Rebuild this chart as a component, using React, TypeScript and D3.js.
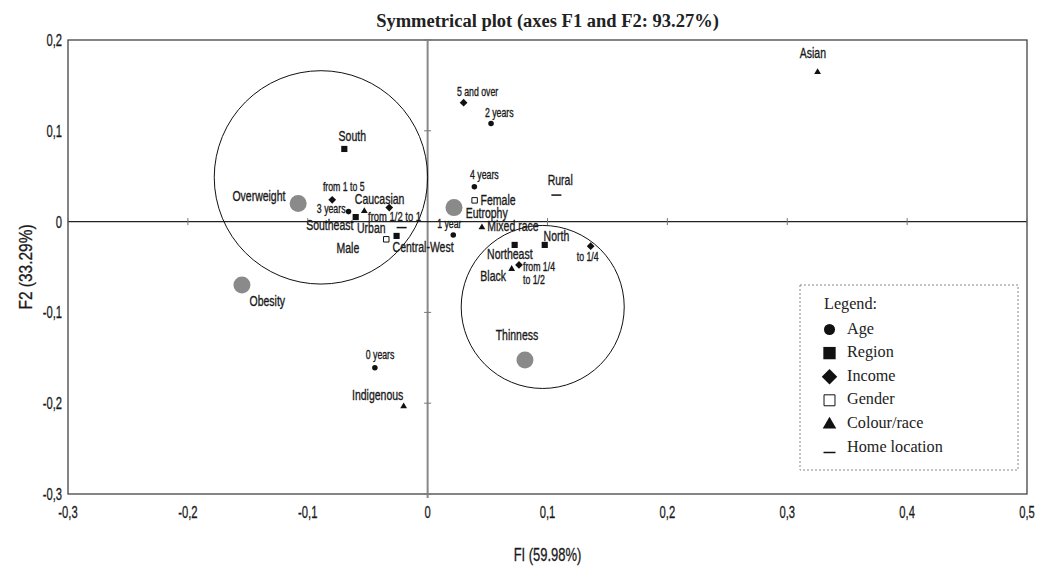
import React from "react";
import * as d3 from "d3";

// ---------- data ----------
const ageNames = ["0 years", "1 year", "2 years", "3 years", "4 years"];
const ageF1 = [-0.044, 0.0214, 0.0529, -0.066, 0.039];
const ageF2 = [-0.161, -0.0147, 0.108, 0.011, 0.0385];

const regionNames = ["South", "Southeast", "Central-West", "North", "Northeast"];
const regionF1 = [-0.0695, -0.06, -0.0259, 0.0977, 0.0726];
const regionF2 = [0.08, 0.005, -0.0158, -0.0257, -0.0257];

const incomeNames = ["5 and over", "from 1 to 5", "from 1/2 to 1", "from 1/4\nto 1/2", "to 1/4"];
const incomeF1 = [0.03, -0.0796, -0.032, 0.0762, 0.136];
const incomeF2 = [0.131, 0.024, 0.0154, -0.0477, -0.0271];

const genderNames = ["Female", "Male"];
const genderF1 = [0.0392, -0.0345];
const genderF2 = [0.0234, -0.0195];

const raceNames = ["Asian", "Caucasian", "Mixed race", "Black", "Indigenous"];
const raceF1 = [0.3253, -0.0528, 0.0453, 0.0701, -0.02];
const raceF2 = [0.1655, 0.0124, -0.0055, -0.0513, -0.2026];

const homeNames = ["Urban", "Rural"];
const homeF1 = [-0.0217, 0.1074];
const homeF2 = [-0.0066, 0.0292];

const nutritionNames = ["Overweight", "Obesity", "Eutrophy", "Thinness"];
const nutritionF1 = [-0.108, -0.1549, 0.022, 0.0812];
const nutritionF2 = [0.02, -0.0697, 0.0154, -0.1524];

const groupCenterF1 = [-0.089, 0.096];
const groupCenterF2 = [0.0487, -0.094];
const groupRadius = [0.089, 0.068];

const xTicks = [-0.3, -0.2, -0.1, 0, 0.1, 0.2, 0.3, 0.4, 0.5];
const yTicks = [-0.3, -0.2, -0.1, 0, 0.1, 0.2];

const legendNames = ["Age", "Region", "Income", "Gender", "Colour/race", "Home location"];

const title = "Symmetrical plot (axes F1 and F2: 93.27%)";
const xTitle = "FI (59.98%)";
const yTitle = "F2 (33.29%)";

// ---------- layout (label placement, px offsets) ----------
type Lab = [number, number, "start" | "middle" | "end", number];
const L = 15;
const S = 12.5;
const labelLayout: Record<string, Lab> = {
  "South": [8, -13, "middle", L],
  "Overweight": [-12.7, -7.3, "end", L],
  "from 1 to 5": [11.6, -13.6, "middle", S],
  "3 years": [-3, -3, "end", S],
  "Caucasian": [15.3, -12, "middle", L],
  "from 1/2 to 1": [5.3, 8.4, "middle", 13.5],
  "Southeast": [-2.3, 7.3, "end", L],
  "Urban": [-16, 0, "end", L],
  "Male": [-27, 8.3, "end", L],
  "Central-West": [26.5, 11, "middle", L],
  "5 and over": [14, -11.6, "middle", S],
  "2 years": [8.2, -11.4, "middle", S],
  "4 years": [10, -12.3, "middle", S],
  "Female": [6, -0.7, "start", L],
  "Eutrophy": [11.7, 5, "start", L],
  "Mixed race": [5.3, -0.6, "start", L],
  "1 year": [-4, -11.4, "middle", S],
  "Rural": [3.8, -15, "middle", L],
  "North": [11.7, -9, "middle", L],
  "Northeast": [-4.8, 9.3, "middle", L],
  "to 1/4": [-3, 9.7, "middle", S],
  "from 1/4\nto 1/2": [4, 1, "start", S],
  "Black": [-5.7, 7.7, "end", L],
  "Thinness": [-8, -25, "middle", L],
  "Asian": [-4.7, -19, "middle", L],
  "Obesity": [7.6, 16, "start", L],
  "0 years": [5.2, -13, "middle", S],
  "Indigenous": [-0.3, -11, "end", L],
};

const W = 1039;
const H = 566;
const FONT = "'Liberation Sans', Arial, sans-serif";
const SERIF = "'Liberation Serif', 'DejaVu Serif', serif";
const SQ = 0.7; // horizontal squeeze to mimic condensed face
const INK = "#1a1a1a";

const x = d3.scaleLinear().domain([-0.3, 0.5]).range([68, 1027]);
const y = d3.scaleLinear().domain([-0.3, 0.2]).range([494, 40]);

const fmt = (v: number) => (Math.abs(v) < 1e-9 ? "0" : d3.format(".1f")(v).replace(".", ",").replace("−", "-"));

type Kind = "circle" | "square" | "diamond" | "gender" | "triangle" | "dash";

const symPath = (kind: Kind, big = false): string | null => {
  const k = big ? 2 : 1;
  switch (kind) {
    case "circle":
      return d3.symbol(d3.symbolCircle, 24 * k * k)()!;
    case "square":
      return d3.symbol(d3.symbolSquare, 38 * k * k)()!;
    case "diamond":
      return d3.symbol(d3.symbolSquare, 30 * k * k)()!;
    case "gender":
      return d3.symbol(d3.symbolSquare, 30 * k * k)()!;
    case "triangle":
      return d3.symbol(d3.symbolTriangle, 20 * k * k)()!;
    default:
      return null;
  }
};

function Marker({ kind, cx, cy, big = false }: { kind: Kind; cx: number; cy: number; big?: boolean }) {
  if (kind === "dash") {
    const hw = big ? 6 : 5;
    return <line x1={cx - hw} x2={cx + hw} y1={cy} y2={cy} stroke="#111" strokeWidth={1.5} />;
  }
  const d = symPath(kind, big)!;
  const rot = kind === "diamond" ? " rotate(45)" : "";
  const ty = kind === "triangle" ? 0.8 : 0;
  return (
    <path
      d={d}
      transform={`translate(${cx},${cy + ty})${rot}`}
      fill={kind === "gender" ? "#fff" : "#111"}
      stroke={kind === "gender" ? "#111" : "none"}
      strokeWidth={1}
    />
  );
}

function Label({ name, px, py }: { name: string; px: number; py: number }) {
  const lay = labelLayout[name] || [0, -10, "middle", L];
  const [dx, dy, anchor, size] = lay;
  const lines = name.split("\n");
  return (
    <text
      transform={`translate(${px + dx},${py + dy}) scale(${SQ},1)`}
      textAnchor={anchor}
      fontFamily={FONT}
      fontSize={size}
      fill={INK}
      stroke={INK}
      strokeWidth={0.35}
    >
      {lines.map((ln, i) => (
        <tspan key={i} x={0} y={i * 13.3} dominantBaseline="central">
          {ln}
        </tspan>
      ))}
    </text>
  );
}

const groups: { names: string[]; f1: number[]; f2: number[]; kind: Kind }[] = [
  { names: ageNames, f1: ageF1, f2: ageF2, kind: "circle" },
  { names: regionNames, f1: regionF1, f2: regionF2, kind: "square" },
  { names: incomeNames, f1: incomeF1, f2: incomeF2, kind: "diamond" },
  { names: genderNames, f1: genderF1, f2: genderF2, kind: "gender" },
  { names: raceNames, f1: raceF1, f2: raceF2, kind: "triangle" },
  { names: homeNames, f1: homeF1, f2: homeF2, kind: "dash" },
];

const legendKinds: Kind[] = ["circle", "square", "diamond", "gender", "triangle", "dash"];

export default function App() {
  const x0 = x(0);
  const y0 = y(0);
  const [xl, xr] = x.range();
  const [yb, yt] = y.range();
  return (
    <svg width={W} height={H} style={{ position: "absolute", left: 0, top: 0, background: "#fff" }}>
      <rect x={0} y={0} width={W} height={H} fill="#fff" />
      {/* title */}
      <text x={(xl + xr) / 2} y={27} textAnchor="middle" fontFamily={SERIF} fontWeight="bold" fontSize={18.5} fill="#222">
        {title}
      </text>

      {/* frame */}
      <rect x={xl} y={yt} width={xr - xl} height={yb - yt} fill="none" stroke="#444" strokeWidth={1.3} />

      {/* zero axes */}
      <line x1={x0} x2={x0} y1={yt} y2={yb + 4} stroke="#888" strokeWidth={2} />
      <line x1={xl} x2={xr} y1={y0} y2={y0} stroke="#222" strokeWidth={1.3} />
      {yTicks
        .filter((t) => t !== 0)
        .map((t) => (
          <line key={"yt" + t} x1={x0 - 3.5} x2={x0 + 3.5} y1={y(t)} y2={y(t)} stroke="#777" strokeWidth={1} />
        ))}
      {xTicks
        .filter((t) => t !== 0)
        .map((t) => (
          <line key={"xt" + t} x1={x(t)} x2={x(t)} y1={y0 - 3.5} y2={y0 + 3.5} stroke="#777" strokeWidth={1} />
        ))}

      {/* tick labels */}
      {yTicks.map((t) => (
        <text
          key={"yl" + t}
          transform={`translate(${xl - 6},${y(t)}) scale(0.66,1)`}
          textAnchor="end"
          dominantBaseline="central"
          fontFamily={FONT}
          fontSize={17}
          fill={INK}
          stroke={INK}
          strokeWidth={0.3}
        >
          {fmt(t)}
        </text>
      ))}
      {xTicks.map((t) => (
        <text
          key={"xl" + t}
          transform={`translate(${x(t)},${yb + 18}) scale(0.66,1)`}
          textAnchor="middle"
          dominantBaseline="central"
          fontFamily={FONT}
          fontSize={17}
          fill={INK}
          stroke={INK}
          strokeWidth={0.3}
        >
          {fmt(t)}
        </text>
      ))}

      {/* axis titles */}
      <text
        transform={`translate(${(xl + xr) / 2},${yb + 61}) scale(0.72,1)`}
        textAnchor="middle"
        dominantBaseline="central"
        fontFamily={FONT}
        fontSize={18}
        fill={INK}
        stroke={INK}
        strokeWidth={0.3}
      >
        {xTitle}
      </text>
      <text
        transform={`translate(26,${(yt + yb) / 2}) rotate(-90) scale(0.86,1)`}
        textAnchor="middle"
        dominantBaseline="central"
        fontFamily={FONT}
        fontSize={18}
        fill={INK}
        stroke={INK}
        strokeWidth={0.3}
      >
        {yTitle}
      </text>

      {/* grouping circles */}
      {groupCenterF1.map((c, i) => (
        <circle
          key={"g" + i}
          cx={x(c)}
          cy={y(groupCenterF2[i])}
          r={x(groupRadius[i]) - x(0)}
          fill="none"
          stroke="#111"
          strokeWidth={1}
        />
      ))}

      {/* nutrition status (grey) */}
      {nutritionNames.map((n, i) => (
        <g key={n}>
          <circle cx={x(nutritionF1[i])} cy={y(nutritionF2[i])} r={8.5} fill="#8a8a8a" />
          <Label name={n} px={x(nutritionF1[i])} py={y(nutritionF2[i])} />
        </g>
      ))}

      {/* variable categories */}
      {groups.map((g) =>
        g.names.map((n, i) => (
          <g key={n}>
            <Marker kind={g.kind} cx={x(g.f1[i])} cy={y(g.f2[i])} />
            <Label name={n} px={x(g.f1[i])} py={y(g.f2[i])} />
          </g>
        ))
      )}

      {/* legend */}
      <rect x={800} y={285} width={218} height={185} fill="none" stroke="#888" strokeWidth={1} strokeDasharray="2,2" />
      <text x={824} y={309} fontFamily={SERIF} fontSize={16.2} fill="#222">
        Legend:
      </text>
      {legendNames.map((n, i) => {
        const cy = 328.5 + i * 23.6;
        return (
          <g key={"lg" + n}>
            <Marker kind={legendKinds[i]} cx={829.5} cy={legendKinds[i] === "dash" ? cy + 6 : cy + 1} big />
            <text x={847} y={cy + 5} fontFamily={SERIF} fontSize={16.2} fill="#222">
              {n}
            </text>
          </g>
        );
      })}
    </svg>
  );
}
